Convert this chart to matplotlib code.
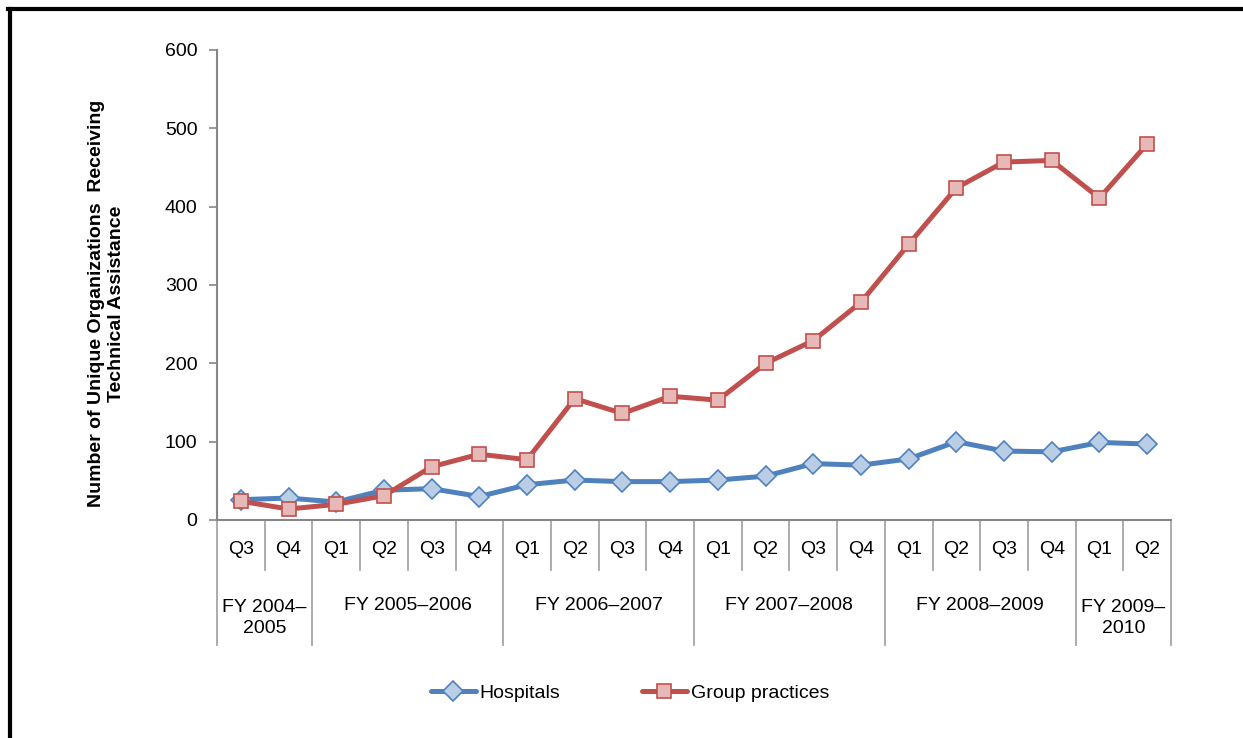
import matplotlib
matplotlib.use("Agg")
import matplotlib.pyplot as plt
import matplotlib.transforms as mtransforms
from matplotlib.lines import Line2D

plt.rcParams["font.family"] = ["Liberation Sans", "DejaVu Sans"]

quarters = ["Q3", "Q4",
            "Q1", "Q2", "Q3", "Q4",
            "Q1", "Q2", "Q3", "Q4",
            "Q1", "Q2", "Q3", "Q4",
            "Q1", "Q2", "Q3", "Q4",
            "Q1", "Q2"]
fiscal_years = ["FY 2004\u2013\n2005", "FY 2005\u20132006", "FY 2006\u20132007",
                "FY 2007\u20132008", "FY 2008\u20132009", "FY 2009\u2013\n2010"]
fy_counts = [2, 4, 4, 4, 4, 2]

hospitals = [26, 28, 23, 38, 40, 30, 45, 51, 49, 49,
             51, 56, 72, 70, 78, 100, 88, 87, 99, 97]
group_practices = [24, 14, 20, 31, 68, 84, 77, 155, 136, 158,
                   153, 200, 229, 278, 352, 424, 457, 459, 411, 480]

FS = 14
W, H = 1243, 738
fig = plt.figure(figsize=(W / 100, H / 100), dpi=100)
ax = fig.add_axes([217 / W, 1 - 520 / H, (1171 - 217) / W, 470 / H])

x = list(range(len(quarters)))
ax.plot(x, hospitals, color="#4F81BD", lw=3.6, marker="D", ms=10,
        mfc="#B9CDE5", mec="#4F81BD", mew=1.2, label="Hospitals",
        solid_capstyle="round", zorder=3)
ax.plot(x, group_practices, color="#C0504D", lw=3.6, marker="s", ms=10.5,
        mfc="#E6B9B8", mec="#C0504D", mew=1.2, label="Group practices",
        solid_capstyle="round", zorder=4)

ax.set_xlim(-0.5, len(x) - 0.5)
ax.set_ylim(0, 600)
ax.set_yticks(range(0, 601, 100))
ax.tick_params(axis="y", direction="out", length=6, width=1.2,
               color="#868686", labelsize=FS, pad=8)
ax.set_xticks([])
for s in ["top", "right"]:
    ax.spines[s].set_visible(False)
for s in ["left", "bottom"]:
    ax.spines[s].set_color("#868686")
    ax.spines[s].set_linewidth(1.5)

ax.set_ylabel("Number of Unique Organizations  Receiving\nTechnical Assistance",
              fontsize=FS, fontweight="bold", linespacing=1.3)
ax.yaxis.set_label_coords(-0.096, 0.46)

# multi-level category axis
trans = mtransforms.blended_transform_factory(ax.transData, ax.transAxes)
q_low = -50 / 470
fy_low = -125 / 470
line_kw = dict(color="#A6A6A6", lw=1.3, transform=trans, clip_on=False)

for i, q in enumerate(quarters):
    ax.text(i, -30 / 470, q, transform=trans, ha="center", va="center",
            fontsize=FS)

bounds = [-0.5]
for c in fy_counts:
    bounds.append(bounds[-1] + c)
for i in range(len(quarters) + 1):
    b = i - 0.5
    if b in bounds:
        ax.plot([b, b], [0, fy_low], **line_kw)
    else:
        ax.plot([b, b], [0, q_low], **line_kw)

for k, fy in enumerate(fiscal_years):
    mid = (bounds[k] + bounds[k + 1]) / 2
    yy = -85 / 470 if "\n" not in fy else -98 / 470
    ax.text(mid, yy, fy, transform=trans, ha="center", va="center",
            fontsize=FS, linespacing=1.35)

fig.legend(loc="center", bbox_to_anchor=(630 / W, 1 - 693 / H), ncol=2,
           frameon=False, fontsize=FS, handlelength=2.3,
           columnspacing=4.2, handletextpad=0.2)

# black frame on left and top
fig.add_artist(Line2D([9.5 / W, 9.5 / W], [0, 1 - 9 / H], color="black",
                      lw=3, transform=fig.transFigure))
fig.add_artist(Line2D([8 / W, 1], [1 - 9 / H, 1 - 9 / H], color="black",
                      lw=3, transform=fig.transFigure))

fig.savefig("out.png", dpi=100)
